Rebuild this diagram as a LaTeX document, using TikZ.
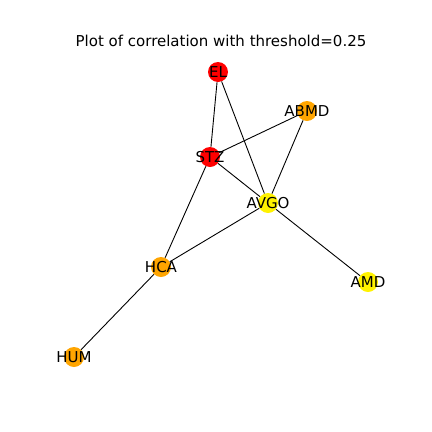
\documentclass[tikz,border=0pt]{standalone}
\usepackage{fontspec}
\setmainfont{DejaVu Sans}

\definecolor{nxorange}{RGB}{255,165,0}
\tikzset{
  stock/.style={circle, minimum size=20pt, inner sep=0pt, font=\fontsize{15}{18}\selectfont},
  hot/.style={stock, fill=red},
  warm/.style={stock, fill=nxorange},
  mild/.style={stock, fill=yellow},
  link/.style={draw, black, line width=0.9pt}
}

\begin{document}
\begin{tikzpicture}[x=1pt, y=-1pt]
    \useasboundingbox (0,0) rectangle (432,432);
    \node [font=\fontsize{15}{18}\selectfont] (title) at (221,41) {Plot of correlation with threshold=0.25};
    \node [hot] (el) at (218,72) {};
    \node [warm] (abmd) at (307,111) {};
    \node [hot] (stz) at (210,157) {};
    \node [mild] (avgo) at (268,203) {};
    \node [warm] (hca) at (161,267) {};
    \node [mild] (amd) at (368,282) {};
    \node [warm] (hum) at (74,357) {};
    \draw [link] (el) -- (stz);
    \draw [link] (el) -- (avgo);
    \draw [link] (abmd) -- (stz);
    \draw [link] (abmd) -- (avgo);
    \draw [link] (stz) -- (avgo);
    \draw [link] (stz) -- (hca);
    \draw [link] (avgo) -- (hca);
    \draw [link] (avgo) -- (amd);
    \draw [link] (hca) -- (hum);
    \node [stock] at (el) {EL};
    \node [stock] at (abmd) {ABMD};
    \node [stock] at (stz) {STZ};
    \node [stock] at (avgo) {AVGO};
    \node [stock] at (hca) {HCA};
    \node [stock] at (amd) {AMD};
    \node [stock] at (hum) {HUM};
  \end{tikzpicture}
\end{document}
